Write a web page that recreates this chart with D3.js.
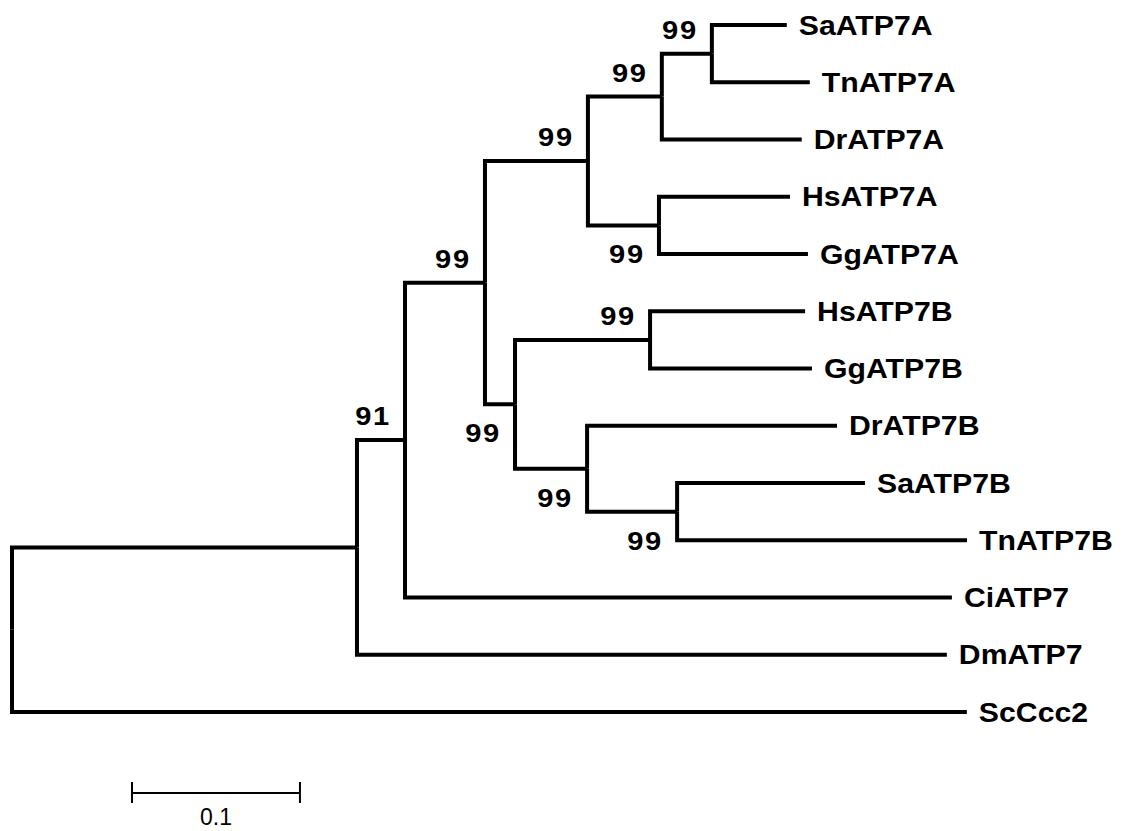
<!DOCTYPE html>
<html>
<head>
<meta charset="utf-8">
<script src="https://d3js.org/d3.v7.min.js"></script>
<style>
  body { margin: 0; background: #fff; }
  .branch { fill: none; stroke: #000; stroke-width: 4; stroke-linejoin: miter; }
  .leaf { font-family: "Liberation Sans", Arial, sans-serif; font-weight: bold; font-size: 27px; }
  .boot { font-family: "Liberation Sans", Arial, sans-serif; font-weight: bold; font-size: 26px; letter-spacing: 1.5px; }
  .scale { stroke: #000; stroke-width: 2; }
  .scaletxt { font-family: "Liberation Sans", Arial, sans-serif; font-size: 23px; }
</style>
</head>
<body>
<svg id="chart"></svg>
<script>
// tree as parallel lists: node id, parent id, branch length, bootstrap value
const nodeIds = ["root", "A", "B", "C", "D", "F", "H", "SaATP7A", "TnATP7A", "DrATP7A",
  "G", "HsATP7A", "GgATP7A", "E", "I", "HsATP7B", "GgATP7B", "J", "DrATP7B", "K",
  "SaATP7B", "TnATP7B", "CiATP7", "DmATP7", "ScCcc2"];
const parentIds = ["", "root", "A", "B", "C", "D", "F", "H", "H", "F",
  "D", "G", "G", "C", "E", "I", "I", "E", "J", "J",
  "K", "K", "B", "A", "root"];
const branchLengths = [0, 0.2054, 0.0286, 0.0476, 0.0613, 0.0440, 0.0298, 0.0446, 0.0583, 0.0833,
  0.0423, 0.0780, 0.0887, 0.0179, 0.0804, 0.0923, 0.0964, 0.0429, 0.1488, 0.0536,
  0.1119, 0.1726, 0.3256, 0.3512, 0.5685];
const bootstrap = [null, null, 91, 99, 99, 99, 99, null, null, null,
  99, null, null, 99, 99, null, null, 99, null, 99,
  null, null, null, null, null];
const scaleBarValue = 0.1;
const scaleBarLabel = "0.1";

const W = 1124, H = 831;
const svg = d3.select("#chart").attr("width", W).attr("height", H);

const table = nodeIds.map((id, i) => ({id: id, parent: parentIds[i], len: branchLengths[i], boot: bootstrap[i]}));
const root = d3.stratify().id(d => d.id).parentId(d => d.parent || null)(table);

// distance from root
root.each(n => { n.dist = n.parent ? n.parent.dist + n.data.len : 0; });

const leaves = root.leaves();
const x = d3.scaleLinear().domain([0, d3.max(leaves, d => d.dist)]).range([12, 967]);
const y = d3.scaleLinear().domain([0, leaves.length - 1]).range([25, 712]);

leaves.forEach((l, i) => { l.py = y(i); });
root.eachAfter(n => {
  if (n.children) n.py = (n.children[0].py + n.children[n.children.length - 1].py) / 2;
  n.px = x(n.dist);
});

const g = svg.append("g");

g.selectAll("path.branch").data(root.descendants().slice(1)).enter().append("path")
  .attr("class", "branch")
  .attr("d", d => `M${d.parent.px},${d.parent.py}V${d.py}H${d.px}`);

const sx = 1.12;

g.selectAll("text.leaf").data(leaves).enter().append("text")
  .attr("class", "leaf")
  .attr("transform", d => `translate(${d.px + 12},${d.py + 9.5}) scale(${sx},1)`)
  .text(d => d.id);

const booted = root.descendants().filter(d => d.data.boot != null);
g.selectAll("text.boot").data(booted).enter().append("text")
  .attr("class", "boot")
  .attr("text-anchor", "middle")
  .attr("transform", d => {
    const upper = d.parent.children[0] === d;
    return `translate(${d.px - 32},${upper ? d.py - 15 : d.py + 38}) scale(${sx},1)`;
  })
  .text(d => d.data.boot);

// scale bar
const barLen = x(scaleBarValue) - x(0);
const sb = svg.append("g").attr("transform", "translate(132,793)");
sb.append("line").attr("class", "scale").attr("x1", 0).attr("x2", barLen).attr("y1", 0).attr("y2", 0);
sb.append("line").attr("class", "scale").attr("x1", 0).attr("x2", 0).attr("y1", -11).attr("y2", 10);
sb.append("line").attr("class", "scale").attr("x1", barLen).attr("x2", barLen).attr("y1", -11).attr("y2", 10);
sb.append("text").attr("class", "scaletxt").attr("text-anchor", "middle")
  .attr("x", barLen / 2).attr("y", 32).text(scaleBarLabel);
</script>
</body>
</html>
